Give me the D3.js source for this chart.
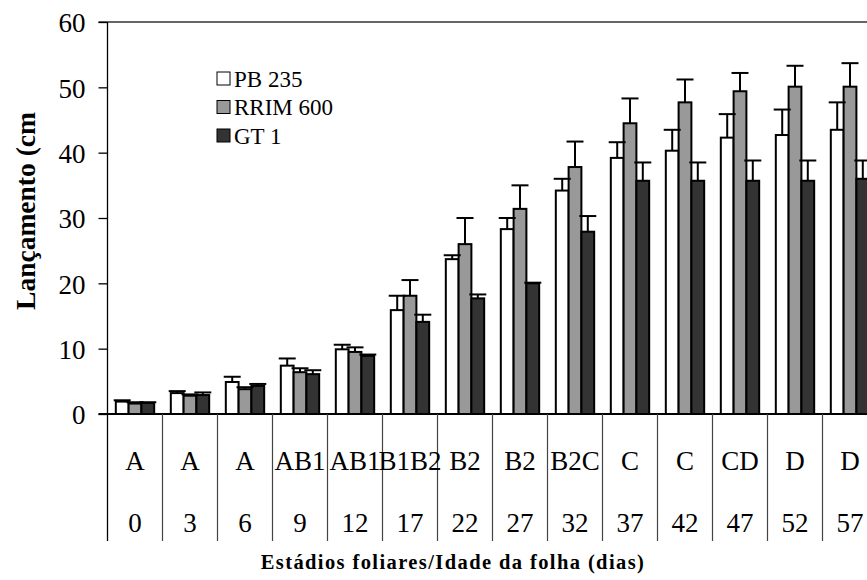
<!DOCTYPE html>
<html>
<head>
<meta charset="utf-8">
<script src="https://cdn.jsdelivr.net/npm/d3@7"></script>
<style>
  body { margin: 0; background: #fff; }
  svg { display: block; font-family: "Liberation Serif", "Times New Roman", serif; }
</style>
</head>
<body>
<div id="chart"></div>
<script>
var width = 867
var height = 580

// data
var stages = ["A", "A", "A", "AB1", "AB1", "B1B2", "B2", "B2", "B2C", "C", "C", "CD", "D", "D"]
var days = ["0", "3", "6", "9", "12", "17", "22", "27", "32", "37", "42", "47", "52", "57"]
var seriesNames = ["PB 235", "RRIM 600", "GT 1"]
var seriesColors = ["#ffffff", "#999999", "#333333"]

var pb235 = [1.9, 3.2, 4.9, 7.4, 9.9, 15.9, 23.7, 28.3, 34.2, 39.2, 40.3, 42.3, 42.7, 43.5]
var pb235Err = [0.2, 0.3, 0.8, 1.1, 0.7, 2.2, 0.6, 1.7, 1.8, 2.4, 3.2, 3.6, 3.9, 4.2]
var rrim600 = [1.6, 2.8, 3.8, 6.4, 9.5, 18.1, 26.0, 31.4, 37.8, 44.5, 47.7, 49.4, 50.1, 50.1]
var rrim600Err = [0.2, 0.2, 0.3, 0.6, 0.7, 2.4, 4.0, 3.6, 3.9, 3.8, 3.5, 2.8, 3.2, 3.6]
var gt1 = [1.7, 2.9, 4.3, 6.1, 8.9, 14.1, 17.7, 20.0, 27.9, 35.7, 35.7, 35.7, 35.7, 36.0]
var gt1Err = [0.1, 0.4, 0.3, 0.6, 0.2, 1.1, 0.6, 0.1, 2.4, 2.8, 2.8, 3.1, 3.1, 2.8]

var yTicks = [0, 10, 20, 30, 40, 50, 60]

var values = [pb235, rrim600, gt1]
var errors = [pb235Err, rrim600Err, gt1Err]

var bars = []
days.forEach(function (d, i) {
    seriesNames.forEach(function (s, j) {
        bars.push({ cat: i, series: s, idx: j, value: values[j][i], err: errors[j][i] })
    })
})

var plotLeft = 107.5
var plotRight = 877.5   // plot runs past the right edge, as in the picture
var plotTop = 22
var plotBottom = 414
var tableBottom = 541

var x = d3.scaleBand().domain(d3.range(days.length)).range([plotLeft, plotRight])
var xs = d3.scaleBand().domain(seriesNames).range([0, x.bandwidth()]).paddingInner(0).paddingOuter(0.65)
var y = d3.scaleLinear().domain([0, 60]).range([plotBottom, plotTop])

var svg = d3.select('#chart')
    .append('svg')
    .attr('width', width)
    .attr('height', height)

// top line at 60
svg.append('line')
    .attr('x1', plotLeft - 9).attr('x2', width)
    .attr('y1', y(60)).attr('y2', y(60))
    .attr('stroke', '#333').attr('stroke-width', 1.5)

// bars
svg.selectAll('rect.bar')
    .data(bars)
    .enter()
    .append('rect')
    .attr('class', 'bar')
    .attr('x', function (d) { return x(d.cat) + xs(d.series) })
    .attr('y', function (d) { return y(d.value) })
    .attr('width', xs.bandwidth())
    .attr('height', function (d) { return y(0) - y(d.value) })
    .attr('fill', function (d) { return seriesColors[d.idx] })
    .attr('stroke', 'black')
    .attr('stroke-width', 2)

// error bars (upper only)
var eb = svg.selectAll('g.err')
    .data(bars)
    .enter()
    .append('g')
    .attr('class', 'err')
    .attr('stroke', 'black')
    .attr('stroke-width', 2)
eb.append('line')
    .attr('x1', function (d) { return x(d.cat) + xs(d.series) + xs.bandwidth() / 2 })
    .attr('x2', function (d) { return x(d.cat) + xs(d.series) + xs.bandwidth() / 2 })
    .attr('y1', function (d) { return y(d.value) })
    .attr('y2', function (d) { return y(d.value + d.err) })
eb.append('line')
    .attr('x1', function (d) { return x(d.cat) + xs(d.series) + xs.bandwidth() / 2 - 8.5 })
    .attr('x2', function (d) { return x(d.cat) + xs(d.series) + xs.bandwidth() / 2 + 8.5 })
    .attr('y1', function (d) { return y(d.value + d.err) })
    .attr('y2', function (d) { return y(d.value + d.err) })

// y axis
var yAxis = svg.append('g')
    .attr('transform', 'translate(' + plotLeft + ',0)')
    .call(d3.axisLeft(y).tickValues(yTicks).tickSize(9).tickSizeOuter(0).tickPadding(13))
yAxis.select('.domain').remove()
yAxis.selectAll('.tick line').attr('stroke', 'black').attr('stroke-width', 1.3)
yAxis.selectAll('.tick text')
    .attr('font-family', '"Liberation Serif", serif')
    .attr('font-size', 27)
    .attr('fill', 'black')
    .attr('dy', '0.36em')

svg.append('line')
    .attr('x1', plotLeft).attr('x2', plotLeft)
    .attr('y1', plotTop).attr('y2', tableBottom)
    .attr('stroke', 'black').attr('stroke-width', 1.3)

// x axis line
svg.append('line')
    .attr('x1', plotLeft - 9).attr('x2', width)
    .attr('y1', plotBottom).attr('y2', plotBottom)
    .attr('stroke', 'black').attr('stroke-width', 2)

// table separators below the axis
svg.selectAll('line.sep')
    .data(d3.range(1, days.length))
    .enter()
    .append('line')
    .attr('class', 'sep')
    .attr('x1', function (d) { return x(d) }).attr('x2', function (d) { return x(d) })
    .attr('y1', plotBottom).attr('y2', tableBottom)
    .attr('stroke', '#444').attr('stroke-width', 1.2)

svg.selectAll('text.stage')
    .data(stages)
    .enter()
    .append('text')
    .attr('class', 'stage')
    .attr('x', function (d, i) { return x(i) + x.bandwidth() / 2 })
    .attr('y', 470)
    .attr('text-anchor', 'middle')
    .attr('font-size', 27)
    .text(function (d) { return d })

svg.selectAll('text.day')
    .data(days)
    .enter()
    .append('text')
    .attr('class', 'day')
    .attr('x', function (d, i) { return x(i) + x.bandwidth() / 2 })
    .attr('y', 532)
    .attr('text-anchor', 'middle')
    .attr('font-size', 27)
    .text(function (d) { return d })

// titles
svg.append('text')
    .attr('transform', 'translate(35,211) rotate(-90)')
    .attr('text-anchor', 'middle')
    .attr('font-weight', 'bold')
    .attr('font-size', 27.5)
    .text('Lançamento (cm')

svg.append('text')
    .attr('x', 453)
    .attr('y', 569)
    .attr('text-anchor', 'middle')
    .attr('font-weight', 'bold')
    .attr('font-size', 20.5)
    .attr('letter-spacing', 1.4)
    .text('Estádios foliares/Idade da folha (dias)')

// legend
var legend = svg.selectAll('g.legend')
    .data(seriesNames)
    .enter()
    .append('g')
    .attr('class', 'legend')
    .attr('transform', function (d, i) { return 'translate(217,' + (72 + i * 28.5) + ')' })
legend.append('rect')
    .attr('width', 13).attr('height', 13)
    .attr('fill', function (d, i) { return seriesColors[i] })
    .attr('stroke', 'black').attr('stroke-width', 1)
legend.append('text')
    .attr('x', 17)
    .attr('y', 14.5)
    .attr('font-size', 23)
    .text(function (d) { return d })
</script>
</body>
</html>
